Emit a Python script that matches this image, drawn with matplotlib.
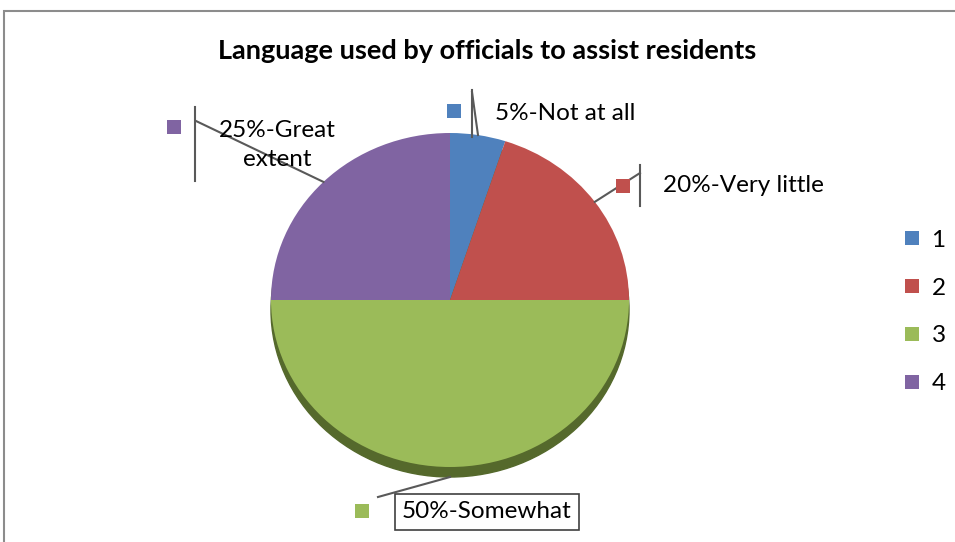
import numpy as np
import matplotlib
matplotlib.use('Agg')
import matplotlib.pyplot as plt
from matplotlib.patches import Ellipse, Rectangle
from matplotlib.lines import Line2D

plt.rcParams['font.family'] = ['Lato', 'DejaVu Sans']

# data
categories = ['1', '2', '3', '4']
shares = [5, 20, 50, 25]
slice_labels = ['5%-Not at all', '20%-Very little', '50%-Somewhat', '25%-Great\nextent']
colors = ['#4F81BD', '#C0504D', '#9BBB59', '#8064A2']
title = 'Language used by officials to assist residents'

W, H = 955, 542
CX, CY, RX, RY = 450, 300, 179, 167   # pie centre / radii in pixels (from top)


def px(x, y):
    # pixel (from top-left) -> data coords
    return (x - CX) / RX, (CY - y) / RY


fig = plt.figure(figsize=(W / 100, H / 100), dpi=100)
ax = fig.add_axes([0, 0, 1, 1])
ax.axis('off')

# outer chart border
ax.add_patch(Rectangle(px(4, 600), (W + 50) / RX, (600 - 11) / RY,
                       fill=False, edgecolor='#8c8c8c', linewidth=1.5))

# 3d-ish rim under the pie
ax.add_patch(Ellipse((0, -0.06), 2.0, 2.0, color='#55692c', zorder=1))

wedges, _ = ax.pie(shares, colors=colors, startangle=90, counterclock=False,
                   radius=1, wedgeprops=dict(linewidth=0), normalize=True)
for w in wedges:
    w.set_zorder(2)
ax.set_aspect('auto')
ax.set_xlim(-CX / RX, (W - CX) / RX)
ax.set_ylim((CY - H) / RY, CY / RY)

# label layout (pixel positions)
lab_xy = [(565, 113), (743, 186), (487, 512), (277, 145)]
key_xy = [(454, 111), (623, 186), (362, 511), (174, 127)]
bar_x = [472, 640, None, 195]
bar_y = [(90, 137), (165, 206), None, (107, 181)]
line_end = [(472, 92), (640, 173), (378, 497), (196, 121)]

for i, w in enumerate(wedges):
    mid = np.deg2rad((w.theta1 + w.theta2) / 2)
    edge = (np.cos(mid), np.sin(mid))
    if i == 2:
        edge = (0, -1.06)
    ex, ey = px(*line_end[i])
    ax.plot([edge[0], ex], [edge[1], ey], color='#595959', lw=1.5, zorder=5)
    if bar_x[i] is not None:
        b0 = px(bar_x[i], bar_y[i][0])
        b1 = px(bar_x[i], bar_y[i][1])
        ax.plot([b0[0], b1[0]], [b0[1], b1[1]], color='#595959', lw=1.5, zorder=5)
    kx, ky = px(*key_xy[i])
    ax.plot(kx, ky, marker='s', markersize=10, color=colors[i],
            markeredgewidth=0, zorder=6)
    tx, ty = px(*lab_xy[i])
    bbox = None
    if i == 2:
        bbox = dict(boxstyle='square,pad=0.3', fc='white', ec='#404040', lw=1.2)
    ax.text(tx, ty, slice_labels[i], ha='center', va='center', fontsize=17.5,
            color='black', linespacing=1.5, bbox=bbox, zorder=7)

# title
tx, ty = px(487, 51)
ax.text(tx, ty, title, ha='center', va='center', fontsize=19.5, fontweight='bold')

# legend
handles = [Line2D([], [], marker='s', linestyle='', markersize=10,
                  markeredgewidth=0, color=c) for c in colors]
fig.legend(handles, categories, loc='upper left', bbox_to_anchor=(878 / W, 1 - 208 / H),
           frameon=False, fontsize=17.5, handletextpad=0.3, labelspacing=1.1,
           handlelength=1.0)

fig.savefig('out.png', dpi=100)
